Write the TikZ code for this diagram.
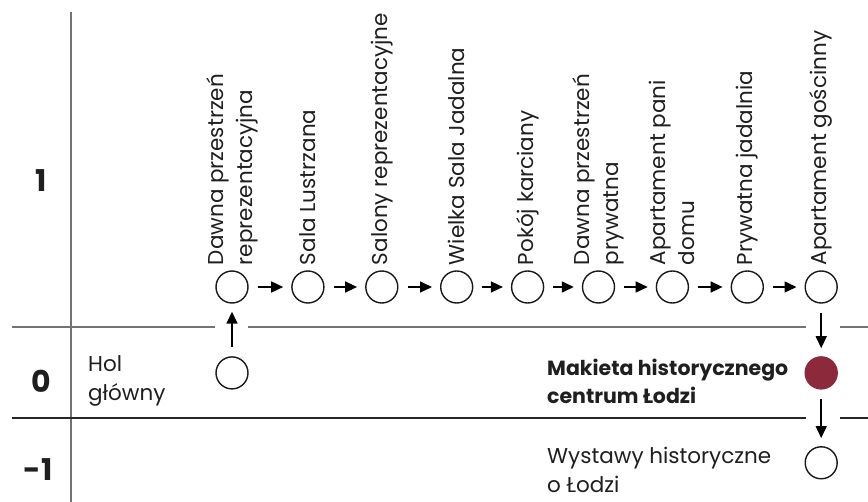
\documentclass[tikz,border=0pt]{standalone}
\usepackage{fontspec}
\setmainfont{Poppins}
\usetikzlibrary{positioning, arrows.meta}
\definecolor{makietared}{HTML}{8C2A3B}

\begin{document}
\begin{tikzpicture}[x=1pt, y=-1pt, node distance=73.9pt,
  every node/.style={font=\fontsize{21.5}{29}\selectfont, text=black!88},
  room/.style={circle, draw=black!90, line width=1.4pt, minimum size=32pt, inner sep=0pt},
  roomname/.style={rotate=90, anchor=west, align=left, inner xsep=5pt, inner ysep=0pt},
  floorname/.style={anchor=west, align=left, inner sep=0pt},
  floornumber/.style={font=\fontsize{30}{30}\selectfont\bfseries},
  go/.style={-{Triangle[length=12pt,width=11pt]}, line width=1.5pt, shorten <=9pt, shorten >=8pt},
  gridline/.style={line width=1.1pt, draw=black!55}]

\useasboundingbox (0,0) rectangle (868,502);

  % Floors
  \draw[gridline] (71,12) -- (71,502);
  \draw[gridline] (12,327) -- (215,327);
  \draw[gridline] (248,327) -- (806,327);
  \draw[gridline] (840,327) -- (868,327);
  \draw[gridline, draw=black!85] (12,418) -- (806,418);
  \draw[gridline, draw=black!85] (840,418) -- (868,418);

  \node[floornumber] (f1) at (41,181) {1};
  \node[floornumber] (f0) at (41,381) {0};
  \node[floornumber] (fm1) at (38,470) {-1};

  % Nodes
  \node (dawna) [room] at (232,287) {};
  \node (lustrzana) [right of=dawna, xshift=2pt, room] {};
  \node (salony) [right of=lustrzana, room] {};
  \node (jadalna) [right of=salony, xshift=1pt, room] {};
  \node (karciany) [right of=jadalna, xshift=-3pt, room] {};
  \node (prywatna) [right of=karciany, xshift=-3pt, room] {};
  \node (pani) [right of=prywatna, room] {};
  \node (jadalnia) [right of=pani, xshift=1pt, room] {};
  \node (goscinny) [right of=jadalnia, room] {};

  \node (hol) [below of=dawna, yshift=-12pt, room] {};
  \node (makieta) [below of=goscinny, yshift=-12pt, room, fill=makietared, draw=makietared] {};
  \node (wystawy) [below of=makieta, yshift=-16pt, room] {};

  % Names
  \node[roomname] (dawna_name) at (dawna.north) {Dawna przestrzeń\\reprezentacyjna};
  \node[roomname] (lustrzana_name) at (lustrzana.north) {Sala Lustrzana};
  \node[roomname] (salony_name) at (salony.north) {Salony reprezentacyjne};
  \node[roomname] (jadalna_name) at (jadalna.north) {Wielka Sala Jadalna};
  \node[roomname] (karciany_name) at (karciany.north) {Pokój karciany};
  \node[roomname] (prywatna_name) at (prywatna.north) {Dawna przestrzeń\\prywatna};
  \node[roomname] (pani_name) at (pani.north) {Apartament pani\\domu};
  \node[roomname] (jadalnia_name) at (jadalnia.north) {Prywatna jadalnia};
  \node[roomname] (goscinny_name) at (goscinny.north) {Apartament gościnny};

  \node[floorname] (hol_name) at (88,381) {Hol\\główny};
  \node[floorname, font=\fontsize{20.5}{28}\selectfont\bfseries] (makieta_name) at (547,381) {Makieta historycznego\\centrum Łodzi};
  \node[floorname] (wystawy_name) at (547,470) {Wystawy historyczne\\o Łodzi};

  % Arrows
  \draw[go] (hol) -- (dawna);
  \draw[go] (dawna) -- (lustrzana);
  \draw[go] (lustrzana) -- (salony);
  \draw[go] (salony) -- (jadalna);
  \draw[go] (jadalna) -- (karciany);
  \draw[go] (karciany) -- (prywatna);
  \draw[go] (prywatna) -- (pani);
  \draw[go] (pani) -- (jadalnia);
  \draw[go] (jadalnia) -- (goscinny);
  \draw[go] (goscinny) -- (makieta);
  \draw[go] (makieta) -- (wystawy);

\end{tikzpicture}
\end{document}
